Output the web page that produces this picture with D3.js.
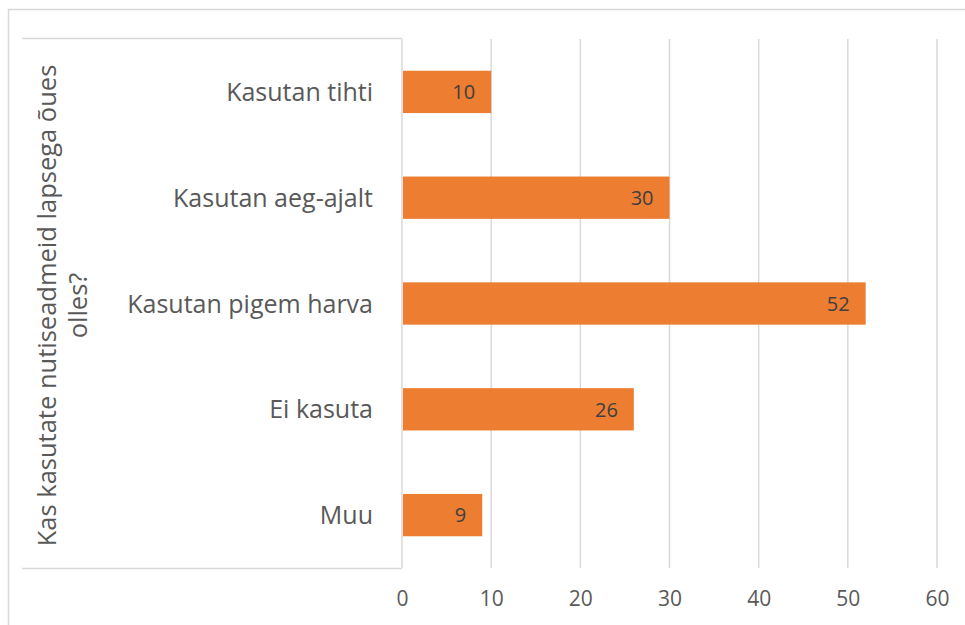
<!DOCTYPE html>
<html>
<head>
<meta charset="utf-8">
<script src="https://d3js.org/d3.v7.min.js"></script>
<style>
  body { margin: 0; background: #fff; }
  svg { display: block; }
</style>
</head>
<body>
<svg id="chart" width="965" height="625"></svg>
<script>
const categories = ['Kasutan tihti', 'Kasutan aeg-ajalt', 'Kasutan pigem harva', 'Ei kasuta', 'Muu'];
const values = [10, 30, 52, 26, 9];
const xTicks = [0, 10, 20, 30, 40, 50, 60];
const axisTitle = ['Kas kasutate nutiseadmeid lapsega õues', 'olles?'];

const font = '"Open Sans", sans-serif';
const textColor = '#595959';
const gridColor = '#d9d9d9';

const svg = d3.select('#chart');

// outer chart frame (right and bottom fall off the picture)
svg.append('rect')
    .attr('x', 8.5).attr('y', 9.5)
    .attr('width', 1000).attr('height', 1000)
    .attr('fill', 'none')
    .attr('stroke', gridColor)
    .attr('stroke-width', 1.5);

const plot = {left: 402, right: 937, top: 39, bottom: 568};

const x = d3.scaleLinear().domain([0, 60]).range([plot.left, plot.right]);
const y = d3.scaleBand().domain(categories).range([plot.top, plot.bottom]).paddingInner(0.6).paddingOuter(0.3);

// gridlines
svg.append('g')
  .selectAll('line')
  .data(xTicks)
  .join('line')
    .attr('x1', d => x(d)).attr('x2', d => x(d))
    .attr('y1', plot.top).attr('y2', plot.bottom)
    .attr('stroke', gridColor)
    .attr('stroke-width', 1.5);

// category box lines
const box = svg.append('g').attr('stroke', gridColor).attr('stroke-width', 1.5);
box.append('line').attr('x1', 22).attr('x2', plot.left).attr('y1', 38.5).attr('y2', 38.5);
box.append('line').attr('x1', 22).attr('x2', plot.left).attr('y1', 568.5).attr('y2', 568.5);

// bars
svg.append('g')
  .selectAll('rect')
  .data(values)
  .join('rect')
    .attr('x', x(0) + 1)
    .attr('y', (d, i) => y(categories[i]))
    .attr('width', d => x(d) - x(0) - 1)
    .attr('height', y.bandwidth())
    .attr('fill', '#ed7d31');

// value labels
svg.append('g')
  .selectAll('text')
  .data(values)
  .join('text')
    .attr('x', d => x(d) - 16)
    .attr('y', (d, i) => y(categories[i]) + y.bandwidth() / 2)
    .attr('dy', '0.36em')
    .attr('text-anchor', 'end')
    .attr('font-family', font)
    .attr('font-size', 20)
    .attr('fill', '#404040')
    .text(d => d);

// category labels
svg.append('g')
  .selectAll('text')
  .data(categories)
  .join('text')
    .attr('x', 373)
    .attr('y', d => y(d) + y.bandwidth() / 2)
    .attr('dy', '0.36em')
    .attr('text-anchor', 'end')
    .attr('font-family', font)
    .attr('font-size', 25)
    .attr('fill', textColor)
    .text(d => d);

// x axis tick labels
const xAxis = d3.axisBottom(x).tickValues(xTicks).tickSize(0).tickPadding(23);
const ax = svg.append('g')
    .attr('transform', `translate(0,${plot.bottom})`)
    .call(xAxis);
ax.select('.domain').remove();
ax.selectAll('text')
    .attr('font-family', font)
    .attr('font-size', 21)
    .attr('fill', textColor);

// rotated axis title
const title = svg.append('text')
    .attr('transform', `translate(56,${(plot.top + plot.bottom) / 2 + 2}) rotate(-90)`)
    .attr('text-anchor', 'middle')
    .attr('font-family', font)
    .attr('font-size', 25.5)
    .attr('fill', textColor);
axisTitle.forEach((t, i) => {
  title.append('tspan')
      .attr('x', 0)
      .attr('dy', i === 0 ? 0 : '1.2em')
      .text(t);
});
</script>
</body>
</html>
